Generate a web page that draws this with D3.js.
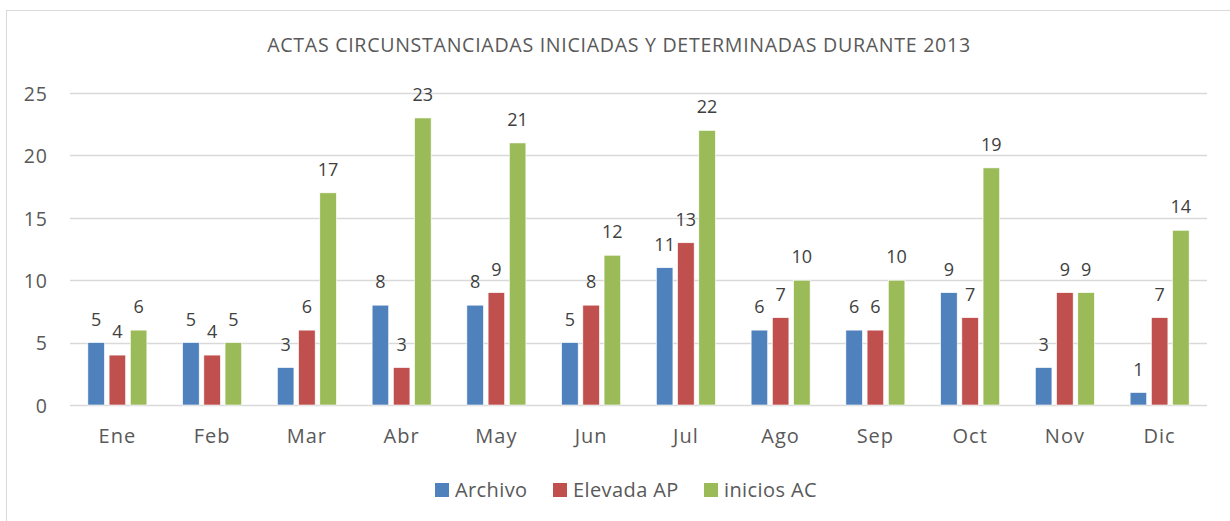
<!DOCTYPE html>
<html><head><meta charset="utf-8">
<script src="https://cdn.jsdelivr.net/npm/d3@7"></script>
<style>
html,body{margin:0;padding:0;background:#fff;}
svg{display:block;font-family:"Open Sans", Lato, sans-serif;}
</style></head>
<body><svg id="c" width="1230" height="521"></svg>
<script>
const categories = ["Ene","Feb","Mar","Abr","May","Jun","Jul","Ago","Sep","Oct","Nov","Dic"];
const seriesNames = ["Archivo","Elevada AP","inicios AC"];
const archivo = [5,5,3,8,8,5,11,6,6,9,3,1];
const elevadaAP = [4,4,6,3,9,8,13,7,6,7,9,7];
const iniciosAC = [6,5,17,23,21,12,22,10,10,19,9,14];
const yTicks = [0,5,10,15,20,25];
const colors = ["#4F81BD","#C0504D","#9BBB59"];
const title = "ACTAS CIRCUNSTANCIADAS INICIADAS Y DETERMINADAS DURANTE 2013";

(function(){
const series = [archivo, elevadaAP, iniciosAC];
const svg = d3.select("#c");
const textColor = "#595959";
const ff = "'Open Sans', sans-serif";

svg.append("rect").attr("x",6.5).attr("y",10.5).attr("width",1240).attr("height",530)
  .attr("fill","none").attr("stroke","#D9D9D9").attr("stroke-width",1);

const pl = 70, pr = 1207, pt = 93, pb = 405;
const x = d3.scaleBand().domain(categories).range([pl,pr]).paddingInner(0).paddingOuter(0);
const x1 = d3.scaleBand().domain(seriesNames).range([x.bandwidth()/2-29.5, x.bandwidth()/2+29.5]).paddingInner(0.22);
const y = d3.scaleLinear().domain([0,25]).range([pb,pt]);

svg.append("text").attr("x",619).attr("y",52).attr("text-anchor","middle")
  .attr("fill",textColor).style("font-size","19.6px").style("letter-spacing","0.7px").text(title);

svg.append("g").selectAll("line").data(yTicks).join("line")
  .attr("x1",pl).attr("x2",pr).attr("y1",d=>Math.round(y(d))+0.5).attr("y2",d=>Math.round(y(d))+0.5)
  .attr("stroke","#D9D9D9").attr("stroke-width",1.5);

const yAxis = d3.axisLeft(y).tickValues(yTicks).tickSize(0).tickPadding(0);
const gy = svg.append("g").attr("transform","translate(48,1)").call(yAxis);
gy.select(".domain").remove();
gy.selectAll("text").attr("fill",textColor).style("font-size","19.5px").style("letter-spacing","1px").style("font-family",ff);

const xAxis = d3.axisBottom(x).tickSize(0).tickPadding(0);
const gx = svg.append("g").attr("transform","translate(0,429)").call(xAxis);
gx.select(".domain").remove();
gx.selectAll("text").attr("fill",textColor).style("font-size","20px").style("letter-spacing","1px").style("font-family",ff);

const groups = svg.append("g").selectAll("g").data(categories).join("g")
  .attr("transform",d=>`translate(${x(d)},0)`);
groups.each(function(cat,i){
  const g = d3.select(this);
  seriesNames.forEach((s,j)=>{
    const v = series[j][i];
    g.append("rect").attr("x",x1(s)).attr("width",x1.bandwidth())
      .attr("y",y(v)).attr("height",y(0)-y(v))
      .attr("fill",colors[j]).attr("stroke","#fff").attr("stroke-width",0.6);
    g.append("text").attr("x",x1(s)+x1.bandwidth()/2).attr("y",y(v)-17)
      .attr("text-anchor","middle").attr("fill","#404040").style("font-size","18px").text(v);
  });
});

const legendX = [435,553,704];
const lg = svg.append("g");
seriesNames.forEach((s,j)=>{
  lg.append("rect").attr("x",legendX[j]).attr("y",483).attr("width",14).attr("height",14).attr("fill",colors[j]);
  lg.append("text").attr("x",legendX[j]+20).attr("y",497).attr("fill",textColor)
    .style("font-size","20px").style("letter-spacing","0.4px").text(s);
});
})();
</script></body></html>
